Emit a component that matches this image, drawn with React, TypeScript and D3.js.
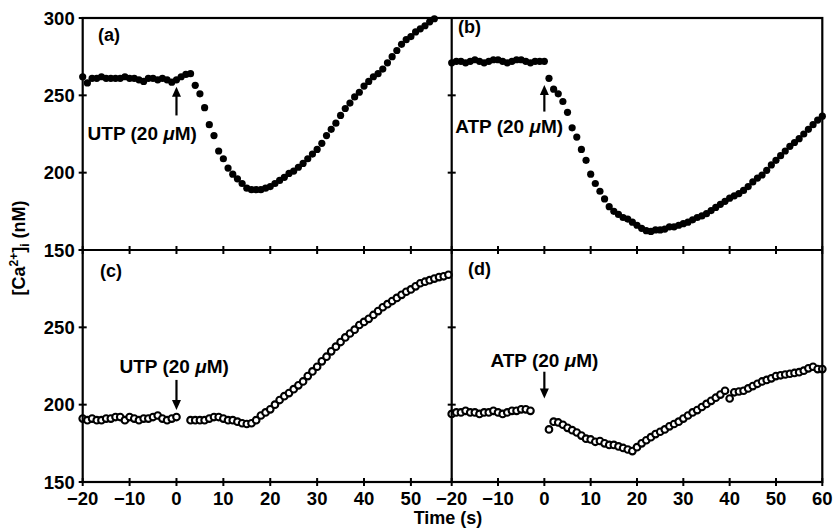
import React from "react";
import * as d3 from "d3";

// time of first sample (s); samples every 1 s; null = no sample
const T_START = -20;

const utpFilled = [
  262, 258, 261, 261, 262, 261, 261, 261, 261, 262, 261, 261, 260, 259, 261, 261, 260, 261, 260, 258.5,
  260, 262, 263.5, 264, 256.5, 251, 242, 231, 224, 214,
  209, 203, 199, 196, 193, 190, 189, 189, 189, 190,
  191, 193, 195, 197, 199.5, 201, 203.5, 206, 209, 212,
  215, 219, 224, 228, 232, 237, 241.5, 245, 249, 252,
  256, 259, 262, 264, 267, 271, 275, 279, 283, 286,
  288, 291, 293, 295, 297.5, 299.5,
];

const atpFilled = [
  271, 272, 272, 271, 272, 273, 272, 271, 272, 273, 273, 272, 271, 272, 273, 273, 272, 271, 272, 272,
  272, 261, 254, 251, 246, 239, 229, 223, 215, 208,
  199, 193, 188, 183, 178, 175, 173, 171, 170, 168,
  166, 164, 162.5, 162, 163, 163, 163.5, 165, 165, 166,
  167, 168, 169.5, 171, 172, 173.5, 175.5, 177.5, 179.5, 181.5,
  183.5, 185, 186.5, 188.5, 191, 194, 196.5, 198.5, 201.5, 205,
  208, 211, 214, 217, 219.5, 222, 225, 228, 231, 234, 236.5,
];

const utpOpen = [
  191, 190, 191, 190, 190, 191, 191, 192, 192, 190, 192, 191, 190, 191, 191, 192, 193, 191, 190, 191,
  192, null, null, 190, 190, 190, 190, 191, 192, 192,
  191, 190, 190, 189, 188, 187.5, 188, 190, 193, 195,
  197, 200, 203, 205.5, 207.5, 210, 212.5, 215, 218.5, 221.5,
  224.5, 228, 231, 234.5, 237.5, 240.5, 243.5, 246, 248.5, 251.5,
  253.5, 255.5, 258, 260.5, 263, 265, 267, 269, 271, 273,
  274.5, 276.5, 278.5, 279.5, 280.5, 281.5, 282.5, 283, 284,
];

const atpOpen = [
  194, 195, 195, 196, 195, 195, 194, 195, 195, 196, 195, 194, 195, 196, 196, 197, 197, 196, null, null,
  null, 184, 189, 188.5, 187, 185, 183.5, 182, 180, 178,
  177.5, 176, 176.5, 175, 174, 174, 173, 172, 171, 170,
  172.5, 175, 177, 179, 181, 182.5, 184, 186, 187.5, 189,
  191, 193, 195, 196.5, 198.5, 200.5, 202.5, 204.5, 206.5, 209,
  204, 208, 208.5, 209, 210.5, 212, 213.5, 215, 216, 217,
  218.5, 219, 219.5, 220, 220.5, 221, 222, 223.5, 224.5, 223, 223,
];

const yTicks = [150, 200, 250, 300];
const yTopLabels = [150, 200, 250, 300];
const yBotLabels = [150, 200, 250];
const xTicksLeft = [-20, -10, 0, 10, 20, 30, 40, 50];
const xTicksRight = [-20, -10, 0, 10, 20, 30, 40, 50, 60];

const FONT = "'Liberation Sans', Arial, Helvetica, sans-serif";

const fmt = (v: number) => (v < 0 ? "\u2212" + Math.abs(v) : String(v));

function toPoints(arr: (number | null)[]) {
  return arr
    .map((v, i) => ({ t: T_START + i, v }))
    .filter((d) => d.v !== null) as { t: number; v: number }[];
}

export default function App() {
  const W = 833;
  const H = 529;
  const xL = d3.scaleLinear().domain([-20, 58.7]).range([82.7, 451.7]);
  const xR = d3.scaleLinear().domain([-20, 60]).range([451.7, 822.3]);
  const yT = d3.scaleLinear().domain([150, 300]).range([250, 18]);
  const yB = d3.scaleLinear().domain([150, 300]).range([482, 250]);

  const left = xL.range()[0];
  const mid = xL.range()[1];
  const right = xR.range()[1];
  const top = yT.range()[1];
  const midY = yT.range()[0];
  const bottom = yB.range()[0];

  const tk = 4;
  const sw = 2.2;

  const arrow = (x: number, yFrom: number, yTo: number, key: string) => {
    const dir = yTo > yFrom ? 1 : -1;
    const headLen = 10;
    const headW = 4.5;
    return (
      <g key={key}>
        <line x1={x} x2={x} y1={yFrom} y2={yTo - dir * headLen + dir * 1} stroke="#000" strokeWidth={2.2} />
        <path
          d={`M${x},${yTo} L${x - headW},${yTo - dir * headLen} L${x + headW},${yTo - dir * headLen} Z`}
          fill="#000"
        />
      </g>
    );
  };

  const label = (x: number, y: number, name: string, key: string) => (
    <text key={key} x={x} y={y} textAnchor="middle" fontFamily={FONT} fontWeight="bold" fontSize={19}>
      {name} (20 <tspan fontStyle="italic">μ</tspan>M)
    </text>
  );

  return (
    <svg
      width={W}
      height={H}
      viewBox={`0 0 ${W} ${H}`}
      style={{ position: "absolute", left: 0, top: 0, background: "#fff" }}
    >
      <rect x={0} y={0} width={W} height={H} fill="#fff" />

      {/* data: filled (top) */}
      <g fill="#000">
        {toPoints(utpFilled).map((d, i) => (
          <circle key={"a" + i} cx={xL(d.t)} cy={yT(d.v)} r={3.6} />
        ))}
        {toPoints(atpFilled).map((d, i) => (
          <circle key={"b" + i} cx={xR(d.t)} cy={yT(d.v)} r={3.6} />
        ))}
      </g>
      {/* data: open (bottom) */}
      <g fill="#fff" stroke="#000" strokeWidth={2.1}>
        {toPoints(utpOpen).map((d, i) => (
          <circle key={"c" + i} cx={xL(d.t)} cy={yB(d.v)} r={3.3} />
        ))}
        {toPoints(atpOpen).map((d, i) => (
          <circle key={"d" + i} cx={xR(d.t)} cy={yB(d.v)} r={3.3} />
        ))}
      </g>

      {/* frame */}
      <g stroke="#000" strokeWidth={sw} fill="none">
        <rect x={left} y={top} width={right - left} height={bottom - top} />
        <line x1={mid} x2={mid} y1={top} y2={bottom} />
        <line x1={left} x2={right} y1={midY} y2={midY} />
      </g>

      {/* ticks */}
      <g stroke="#000" strokeWidth={2}>
        {yTicks.map((v) => (
          <g key={"yt" + v}>
            <line x1={left - tk} x2={left + tk} y1={yT(v)} y2={yT(v)} />
            <line x1={left - tk} x2={left + tk} y1={yB(v)} y2={yB(v)} />
            {v > 150 && v < 300 && (
              <>
                <line x1={mid - tk} x2={mid + tk} y1={yT(v)} y2={yT(v)} />
                <line x1={mid - tk} x2={mid + tk} y1={yB(v)} y2={yB(v)} />
              </>
            )}
          </g>
        ))}
        {xTicksLeft.map((t) => (
          <g key={"xl" + t}>
            <line x1={xL(t)} x2={xL(t)} y1={midY - tk} y2={midY + tk} />
            <line x1={xL(t)} x2={xL(t)} y1={bottom - tk} y2={bottom + tk} />
          </g>
        ))}
        {xTicksRight.map((t) => (
          <g key={"xr" + t}>
            <line x1={xR(t)} x2={xR(t)} y1={midY - tk} y2={midY + tk} />
            <line x1={xR(t)} x2={xR(t)} y1={bottom - tk} y2={bottom + tk} />
          </g>
        ))}
      </g>

      {/* tick labels */}
      <g fontFamily={FONT} fontWeight="bold" fontSize={18.5} fill="#000">
        {yTopLabels.map((v) => (
          <text key={"ytl" + v} x={left - 8} y={yT(v) + 6.5} textAnchor="end">
            {v}
          </text>
        ))}
        {yBotLabels.map((v) => (
          <text key={"ybl" + v} x={left - 8} y={yB(v) + 6.5} textAnchor="end">
            {v}
          </text>
        ))}
        {xTicksLeft.map((t) => (
          <text key={"xll" + t} x={xL(t)} y={bottom + 23} textAnchor="middle">
            {fmt(t)}
          </text>
        ))}
        {xTicksRight.map((t) => (
          <text key={"xrl" + t} x={xR(t)} y={bottom + 23} textAnchor="middle">
            {fmt(t)}
          </text>
        ))}
      </g>

      {/* panel letters */}
      <g fontFamily={FONT} fontWeight="bold" fontSize={18} fill="#000">
        <text x={98} y={41}>(a)</text>
        <text x={458} y={33}>(b)</text>
        <text x={100} y={277}>(c)</text>
        <text x={468} y={275}>(d)</text>
      </g>

      {/* annotations */}
      {arrow(xL(0), yT(237), yT(255.5), "arA")}
      {label(xL(-7.3), yT(221), "UTP", "lbA")}
      {arrow(xR(0), yT(239.5), yT(256.7), "arB")}
      {label(xR(-7.6), yT(225.5), "ATP", "lbB")}
      {arrow(xL(0), yB(216), yB(196.5), "arC")}
      {label(xL(-0.5), yB(220.7), "UTP", "lbC")}
      {arrow(xR(0), yB(221.3), yB(204), "arD")}
      {label(xR(0), yB(224.6), "ATP", "lbD")}

      {/* axis titles */}
      <text
        transform={`translate(25, 248) rotate(-90)`}
        textAnchor="middle"
        fontFamily={FONT}
        fontWeight="bold"
        fontSize={18}
      >
        [Ca<tspan fontSize={12} dy={-7}>2+</tspan>
        <tspan dy={7}>]</tspan>
        <tspan fontSize={12} dy={4}>i</tspan>
        <tspan dy={-4}> (nM)</tspan>
      </text>
      <text x={448} y={524} textAnchor="middle" fontFamily={FONT} fontWeight="bold" fontSize={18}>
        Time (s)
      </text>
    </svg>
  );
}
